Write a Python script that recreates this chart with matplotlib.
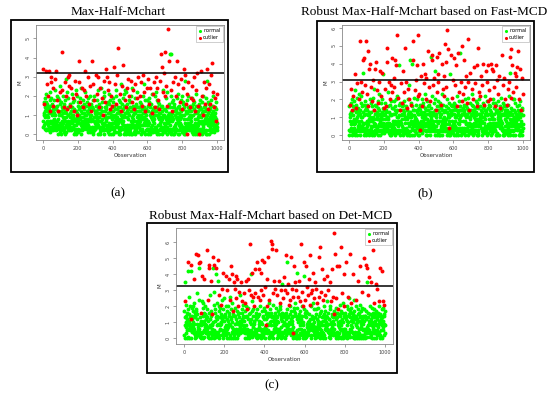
import numpy as np
import matplotlib.pyplot as plt
from matplotlib.patches import Rectangle

# one character per observation = M value in steps of 0.1 (index in LEVELS / 10),
# a leading "*" marks an outlier
LEVELS = "0123456789abcdefghijklmnopqrstuvwxyzABCDEFGHIJKLMNOPQRSTUVWXYZ!#$%&"

m_a = """
4*y7hb5a*g3e 6jc9*x3dh2l a*q6g73e*k5c 94b6d*x2f1m *c7ij6*r2*u4b
3g7a*o2c5d*f 6ib48e3*t7n 5a*x2e6d4k3 *i7f5c8j*c0b 4a3i*m1g6p5
2h0c3a*H5e7 4*n9kb6d*e3g 81f4*r7ic0t *k5b91d6m*d4 7ea3j*u52*p6
3*v9g6b4*fc7 2e*o8e3l6a*j 4a7h93*c5i0 d18*s3c5n7*l 0c9b2*a6kh8
1f37*rda6*C2 8j9*h2c6e5o 0*o74f2b*e6i 93b5g*n7d4m *x6a83*kaf57
4h8c6*u3j1b 57*g2d4e8k*p 1a9a3g*c7e2 8*C4e1d3i*q0 72k9*i4b6c3
3f7*v5ca9*l4 6i8nd*u05b7 9*e4g1b3d0*o 2e7o4a6*j3h 8c5*a2j4m*s6
0k2c*h9ea37 5*y8de3g*u24 1h9*n5b0l6g *r2b4ic*d5a0 39*k6ea4*f8j
6c0h4*z1f93 7*qa4d6n*g85 1kd9*v5b7e4 86*J1b3c0i*l 2e7h0q*c3a8
4g9c*p6d3j5 7*Aa0l5e9*in 1f4b0*e3m2c 59*o1g4db38 *t2i5a0*k4e1
3h0*s5c7k9*h 46o0da*n8f5 17*d4b0j3b2 *q5g1e3c*j64 9m7a5*u1e8c
6e49*k3h7c8 *r5a2g0d*f91 3kd*v8b5e6q 1*m9i7b05*c2 8d6a3*o2i75
0f*t5c7h1*g6 3ja0e*o2b49 1g3*b8lc52*l 7d91e3*r6a8 2k*ea4c1m*u3
4c1i*o0e9ha *i5d0gb2*d83 6b*s95e7*G24 8*z3f0c1a*m9 2n4*wa3d6*k1
5d*H8j6c*p94 27m*f0e3a8*T 6*C1g9b7G3e 58G0k1a*nb3 9h7*c0e8i*r4
3e0g2*u5a1c 4*k93d6c2j*C 8b7l0e9*q62 5b0f*h4d8a6 *t9ic5a*d4k1
2h*o4d1g*y03 8ea1*v6s0b4 *g2c5ib*l38*0 6e4k3*r9dc5 28*e6a4f*j93
7c5*p3j1e4*i 2ga0d*u3h51 84*c0b6l3*n5 1f0b4*w8e6c 9*f5g7a2*01d
3e0i1*x6d92 7*k0hb6c*a51 4k2a*r7ec68 *g1f0d2*o9j7 *y6a0s*d8b5h
2c0*q7g9d*g4 6e*v8i5a1*B3 9b7f*m6c8k1 *e5a74b9*j2e 38*7h5d4*l62
"""

m_b = """
3g0c*h2a8i6 *q4dc2k0*e37 1eg8b*m4j96 3p0*y7f1d8*f 2h9a*t0l3e5
4f8b*k6d3n2 5c*R0e4i8a*u 2m3*oa5g7dz 6*G4b2h3*H0e 1j*s7c3f*R04
8e*n5h7*L3b6 1*g9c0d*B2k8 *E3ad5i1*r49 2g0*j8la51*v 7eq0*e9c6*B3
5h3c*F1g29*p 4da0j*i5bf2 *u6e9n07*A3c 8i5a*m6k1d9 3*z7fb5y2*f6
1e4c*q9i6b2 *g5de3*N7a4*F 6o2a9g5*u37 1d*k6h0c2*s5 3j0b*H1f*o24
8f5c6*w3j*r1 4ec*G0g8k6*D 1d3am6e*U28 5a*l7h3D1b6 2*e8e0i*t73b
6g3*i9c5*A1e 4h0d*o3j1b2 9*N7a4g*u2f1 3e*f09a7k2c *q1d0s*k5a2G
7d0i*h8c6aE 4g0b3*G7e5*R 6b8e0l3*p92 5a7*v1h9d*D4 8ek0*U5c*m7f
2f0c*n4h7e*3 5*x8d6c*g2k4 1a*E3g5i8b*t 6d9na3f*y57 *k2e0*w6j9c3
0*L5e8g6*r2c 4h*j0b5d8I6 2a9f*J*G4m35 8c*s6d2i4b*w 3e5A0k2*e8a
5c8*I0g*o3e*y 1j7*u0gd2*K8 3b0ia*h2f4c 58*E0n6e*q29 4h7a*x5d*m86
7*P2e9*F4g6*r 3k0d*X2fc1a *M6a0i8*42cy 1e0*J4bh3d*l 5c8g6*v3h1e
4i0c*H6a8f*s 5h0a*D3e2m1 *g4b0dc3*K7e 6j*o9a4gK28 3b*u0ee1*j4c
*O2f8c*n3h1e *G4d0*r2bk8*x 3a7g6*i4c2f *u5e0l*S1d7a 2*e9i5a*z3b1
6e3c*q1h4n2 5*k0gd3a1e*C 7c9f5*t3j6b 8d0*D2i9*g35 1f*N0k8c*o6a
9g5c*m7e8b*x 4d0a2*s8i3f 1*E7a4g2*h5c 3e9m*A1e4d2 *u5b0j6*j1f4
*D6h9c4*p7e5 3g*k0db2*E49 1*B5a7*A3i2k 4*r9f5c7*g3i 2e0h*D5d1*v7
0e7c*n9j6a8 5*x0da7g*f94 6b8e5l*J3c7 4f*s0c2i1b*w 3h0g*k5e9d1
8c5g7*h3e1a 4*q0hd5m*u73 1b9z*I0d8*M2 5f*l3eb6c*D9 2k8*o0a3k5e
7d0*z6i9*x4c 8*r5g3a*C6e9 4b*L0h5d*k36 1a*B0j6c*e85 3e*w0f2*n6b4
"""

m_c = """
2h0dz8*n3la 7e0g9c5*MG1 6i8b0fq7d5 9k*c0*KG6je8 4c7ak5h9m6
*B3g0ed2i*R4 1h9cs3f*Q52 7I4o6*L1d*M9 2b8*g0a4n*D1 3j0m9e5b1g
*B4f7k9c5e3 8*T6d4i2*o7b 1*K3g*I0r8c4 7h0*A3e9*f62 8I4a*P3t5l*K
0g3ib2E*I4d 1e8m3c*NA29 4k0h2*r5j8d 6a9f*la2o5c *v3i0e*F2p4b
5f7d3e8*D2k 4h0*u6c8bk3 7e0*B9g2q*o1 8d*J0ic7m4a *E6f0*h3e5*z2
4e*v0j9*D5c6 *p3h0a*B4f2*k 9d5g6*t3r8b 7*z4a9ig6c*n 5l8e4*s7db6
3h0*m5e*A8k4 6*i0d3jc2*B5 1f4*u0g2*Xa3 9E5c*r1hn4*F 2e7i*q3b*k9a
*H4e6*s2g1c3 *M5d0i*q1e62 7b*H9f5*o2k1 *F6a0*u4h9*N5 2d*r1ej6*M3c
5h0*w7c*84f6 *B9d3*k5e*P8g 1m4*o0a3i2e *Z8b1g*X4d*U2 3e*s0la*A6c8
4g7c*v9e5j*T 6d0b*r3h2a1 5*A4f6k*m2i3 7c*u0e4by2g 3*p8d1f*C4a5
8*u0e*Q2g9cM 3*s7i5*y8ed4 *l6a9k*o3f5*P 2h4c*v6d9b*3 7e*q0h*J2j4m
1g3*z0e4*u2c 5jF0d*q1ac6 *A2f0h*n8e3b 9*X6c2k*t4e8 *k3a0D*M5i2g
4e*o0h2*J1d9 3*w7g6*r4a2*B 8b5f*l9c7*Q6 2k0*s7e5*u9c 6*F8m2i*p4a7
5d*z0i7*v2f1 4*m6c9b3j2*P 7e8*q0g6*V3a 2*t5h8*H1d4e 3b*o0fk2*B8c
6h0*r7e9a5n *D8d6g*u94c1 5c3*z0i2k*n4 9a6f3*H7e2b *q4d*&6h9*f3e
*R2e0c*p3j1g *J4d0a2*i8f3 7*J1b9e6l8*V 5h0g6*s1c4a 2m0*E5e6*k1d
6g3c1e*M2k4 8b0i*q3a1fp 2e4h6d*R1b8 5j*m7cd4g1a 3f*E0e2oh4c
1e0k8d9*o2c 7a0f2i4*A6b 3g0d*J2el9a 7h0c*t6j2e5 9d0b2*O6i3e
5e0h6*K3cz1 4*I7d6g*r8b3 9*C5a1k4f*z2 8c0ej9a6*T4 7g0d*m3i5b9
3f0*y8h9dc2 5*v7e3g2*n9b 4k0a*I2f5c9 1e*G0d8i5j*n 7b9f*l2e8h3
"""

titles = ["Max-Half-Mchart",
          "Robust Max-Half-Mchart based on Fast-MCD",
          "Robust Max-Half-Mchart based on Det-MCD"]
captions = ["(a)", "(b)", "(c)"]
limits = [3.22, 3.1, 3.27]
y_ticks = [[0, 1, 2, 3, 4, 5], [0, 1, 2, 3, 4, 5, 6], [0, 1, 2, 3, 4, 5, 6]]
x_ticks = [0, 200, 400, 600, 800, 1000]


def decode(s):
    s = "".join(s.split())
    y, out = [], []
    i = 0
    while i < len(s):
        red = s[i] == "*"
        if red:
            i += 1
        y.append(LEVELS.index(s[i]) / 10)
        out.append(red)
        i += 1
    return np.arange(1, len(y) + 1), np.array(y), np.array(out)


W, H = 550, 396


def rect(l, t, r, b):
    return [l / W, 1 - b / H, (r - l) / W, (b - t) / H]


# layout in pixels: inner plot, outer frame, title pos, caption pos, ylim
layout = [
    dict(ax=(36, 25, 224, 140), frame=(11, 20, 228, 172), title=(118, 12),
         cap=(118, 193), ylim=(-0.3, 5.7)),
    dict(ax=(342, 25, 530, 140), frame=(317, 21, 534, 172), title=(424, 12),
         cap=(425, 193), ylim=(-0.28, 6.17)),
    dict(ax=(176, 228, 393, 344), frame=(147, 223, 397, 373), title=(271, 216),
         cap=(272, 385), ylim=(-0.37, 6.9)),
]

fig = plt.figure(figsize=(5.5, 3.96), dpi=100)

for data, title, cap, lim, yt, lo in zip([m_a, m_b, m_c], titles, captions,
                                          limits, y_ticks, layout):
    ax = fig.add_axes(rect(*lo["ax"]))
    x, y, out = decode(data)
    ax.scatter(x[~out], y[~out], s=8, c="#00ff00", lw=0, label="normal")
    ax.scatter(x[out], y[out], s=8, c="#ff0000", lw=0, label="outlier")
    ax.axhline(lim, color="black", lw=1.1)
    ax.set_xlim(-40, 1040)
    ax.set_ylim(*lo["ylim"])
    ax.set_xticks(x_ticks)
    ax.set_yticks(yt)
    ax.tick_params(labelsize=3.5, length=2, width=0.5, color="#777",
                   labelcolor="#444", pad=2)
    for lab in ax.get_yticklabels():
        lab.set_rotation(90)
        lab.set_va("center")
    ax.set_xlabel("Observation", fontsize=4, color="#333", labelpad=2)
    ax.set_ylabel("M", fontsize=4, color="#333", labelpad=2)
    for sp in ax.spines.values():
        sp.set_color("#888")
        sp.set_linewidth(0.6)
    leg = ax.legend(loc="upper right", fontsize=3.5, markerscale=0.8,
                    handletextpad=0.2, borderpad=0.4, labelspacing=0.3,
                    handlelength=0.8, fancybox=False, edgecolor="#aaa",
                    framealpha=1, borderaxespad=0.3)
    leg.get_frame().set_linewidth(0.4)

    l, t, r, b = lo["frame"]
    fig.add_artist(Rectangle((l / W, 1 - b / H), (r - l) / W, (b - t) / H,
                             transform=fig.transFigure, fill=False,
                             ec="black", lw=1.3))
    fig.text(lo["title"][0] / W, 1 - lo["title"][1] / H, title, ha="center",
             va="center", fontsize=9.5, family="Liberation Serif")
    fig.text(lo["cap"][0] / W, 1 - lo["cap"][1] / H, cap, ha="center",
             va="center", fontsize=9.5, family="Liberation Serif")

fig.savefig("out.png", dpi=100)
